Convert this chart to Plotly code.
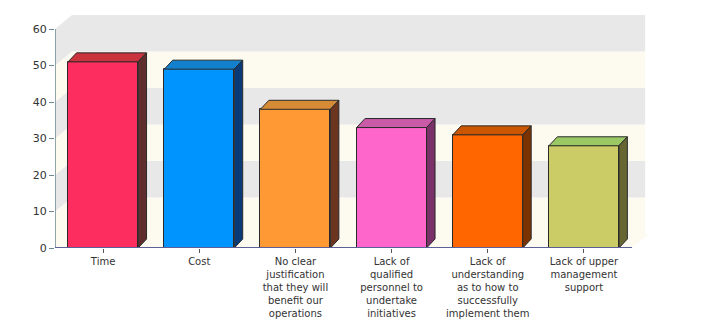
import plotly.graph_objects as go

# Survey results: main obstacles
categories = [
    "Time",
    "Cost",
    "No clear<br>justification<br>that they will<br>benefit our<br>operations",
    "Lack of<br>qualified<br>personnel to<br>undertake<br>initiatives",
    "Lack of<br>understanding<br>as to how to<br>successfully<br>implement them",
    "Lack of upper<br>management<br>support",
]
values = [51, 49, 38, 33, 31, 28]

front_colors = ["#fe2d5f", "#0095fe", "#fe9933", "#fe66cc", "#ff6600", "#cccc66"]
top_colors = ["#c8333d", "#1280cc", "#d58a35", "#c85aa8", "#cc5500", "#99c864"]
side_colors = ["#5f2d2d", "#083a78", "#6b3520", "#7a3068", "#7a3300", "#666633"]

y_ticks = [0, 10, 20, 30, 40, 50, 60]

# pseudo-3D geometry (data units)
BAR_W = 0.728
BAR_DX, BAR_DY = 0.088, 2.47     # bar depth
WALL_DX, WALL_DY = 0.177, 3.84   # wall depth
RIGHT_PAD = 0.137                # back wall stops a little short on the right
Y_MAX = 60
GRAY, CREAM = "#e8e8e8", "#fdfaf0"
EDGE = "#2a2a2a"

xs = list(range(len(categories)))
x0, x1 = -0.5, len(categories) - 0.5

fig = go.Figure()
shapes = []

# floor
shapes.append(dict(type="path", layer="below", line=dict(width=0), fillcolor=CREAM,
                   path=f"M {x0},0 L {x1},0 L {x1+WALL_DX},{WALL_DY} L {x0+WALL_DX},{WALL_DY} Z"))
# back wall and left wall bands
for i, lo in enumerate(y_ticks[:-1]):
    hi = y_ticks[i + 1]
    col = GRAY if i % 2 == 1 else CREAM
    shapes.append(dict(type="rect", layer="below", line=dict(width=0), fillcolor=col,
                       x0=x0 + WALL_DX, x1=x1 + RIGHT_PAD, y0=lo + WALL_DY, y1=hi + WALL_DY))
    shapes.append(dict(type="path", layer="below", line=dict(width=0), fillcolor=col,
                       path=f"M {x0},{lo} L {x0},{hi} L {x0+WALL_DX},{hi+WALL_DY} L {x0+WALL_DX},{lo+WALL_DY} Z"))

# axis lines
shapes.append(dict(type="line", layer="above", x0=x0, x1=x0, y0=0, y1=Y_MAX,
                   line=dict(color="#6d8a94", width=1.5)))
shapes.append(dict(type="line", layer="above", x0=x0, x1=x1, y0=0, y1=0,
                   line=dict(color="#5b5f96", width=2)))

# front faces
fig.add_trace(go.Bar(x=xs, y=values, width=BAR_W,
                     marker=dict(color=front_colors, line=dict(color=EDGE, width=1)),
                     hoverinfo="skip", showlegend=False))

# top and side faces
for x, v, tc, sc in zip(xs, values, top_colors, side_colors):
    l, r = x - BAR_W / 2, x + BAR_W / 2
    fig.add_trace(go.Scatter(
        x=[l, r, r + BAR_DX, l + BAR_DX, l],
        y=[v, v, v + BAR_DY, v + BAR_DY, v],
        mode="lines", fill="toself", fillcolor=tc,
        line=dict(color=EDGE, width=1), hoverinfo="skip", showlegend=False))
    fig.add_trace(go.Scatter(
        x=[r, r + BAR_DX, r + BAR_DX, r, r],
        y=[0, BAR_DY, v + BAR_DY, v, 0],
        mode="lines", fill="toself", fillcolor=sc,
        line=dict(color=EDGE, width=1), hoverinfo="skip", showlegend=False))

fig.update_layout(
    width=719, height=330,
    margin=dict(l=55, r=70, t=15, b=82),
    paper_bgcolor="white", plot_bgcolor="white",
    font=dict(family="DejaVu Sans", size=10, color="#333333"),
    shapes=shapes,
    xaxis=dict(range=[x0, x1 + WALL_DX], tickvals=xs, ticktext=categories,
               ticks="outside", ticklen=4, tickcolor="#555555",
               showgrid=False, zeroline=False, showline=False,
               tickfont=dict(size=10, color="#333333"), fixedrange=True),
    yaxis=dict(range=[0, Y_MAX + WALL_DY], tickvals=y_ticks,
               ticks="outside", ticklen=5, tickcolor="#6d8a94",
               showgrid=False, zeroline=False, showline=False,
               tickfont=dict(size=11, color="#333333"), fixedrange=True),
    bargap=0,
)

fig.write_html("out.html")
